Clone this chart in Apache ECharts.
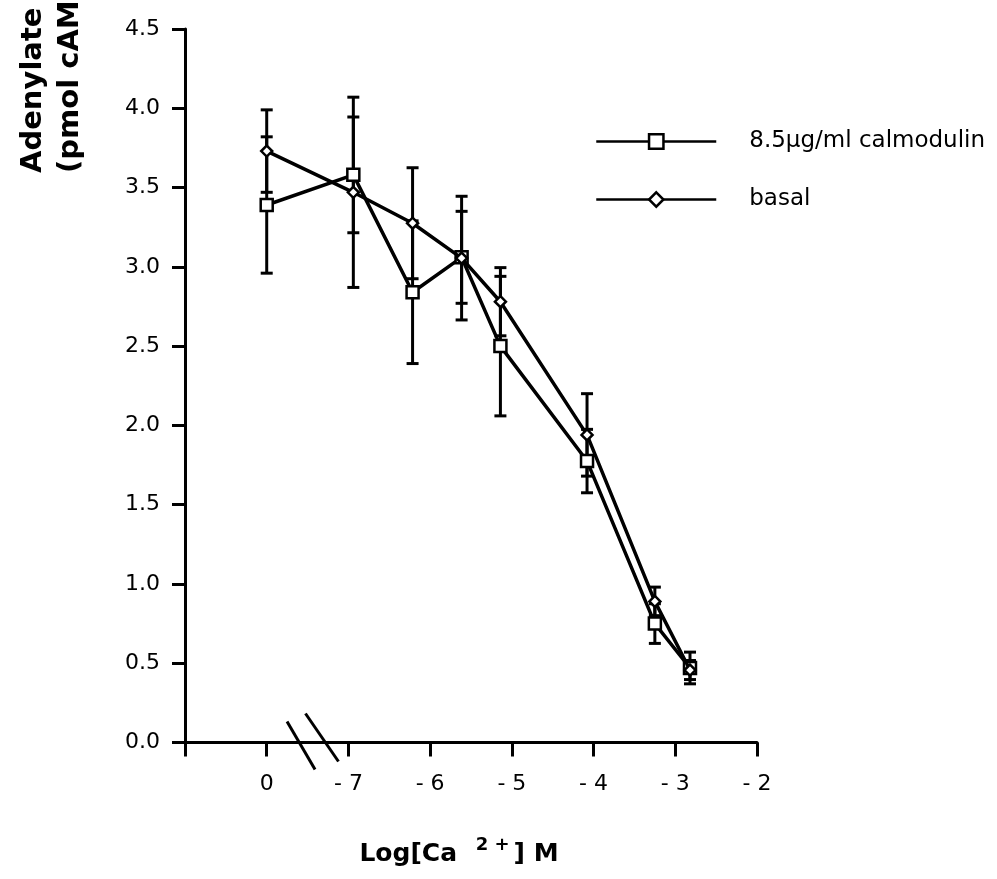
<!DOCTYPE html>
<html>
<head>
<meta charset="utf-8">
<title>Adenylate cyclase vs Log[Ca2+]</title>
<script src="https://cdn.jsdelivr.net/npm/echarts@6/dist/echarts.min.js"></script>
<style>
    html, body { margin: 0; padding: 0; background: #fff; }
    #chart { width: 997px; height: 879px; }
</style>
</head>
<body>
<div id="chart"></div>
<script>
/************************    数据    ****************************/
// x 轴位置：1 = 无钙(0)，2..7 = log[Ca2+] -7..-2
var xTickLabels = ['', '0', '- 7', '- 6', '- 5', '- 4', '- 3', '- 2'];
var xPos = [1.0, 2.06, 2.785, 3.385, 3.86, 4.92, 5.75, 6.18];

var calmodulinMean = [3.39, 3.58, 2.84, 3.06, 2.50, 1.775, 0.75, 0.47];
var calmodulinErr  = [0.43, 0.365, 0.45, 0.29, 0.44, 0.20, 0.125, 0.10];

var basalMean = [3.73, 3.47, 3.275, 3.055, 2.78, 1.94, 0.89, 0.457];
var basalErr  = [0.26, 0.60, 0.35, 0.39, 0.215, 0.26, 0.09, 0.06];

var seriesNames = ['8.5\u00b5g/ml calmodulin', 'basal'];

/************************    组装数据    ****************************/
function toPoints(mean) {
    return mean.map(function (v, i) { return [xPos[i], v]; });
}
function toErrors(mean, err) {
    return mean.map(function (v, i) { return [xPos[i], v - err[i], v + err[i]]; });
}

function renderErrorBar(params, api) {
    var top = api.coord([api.value(0), api.value(2)]);
    var bottom = api.coord([api.value(0), api.value(1)]);
    var half = 6;
    var style = { stroke: '#000', lineWidth: 3 };
    return {
        type: 'group',
        children: [
            { type: 'line', shape: { x1: top[0], y1: top[1], x2: bottom[0], y2: bottom[1] }, style: style },
            { type: 'line', shape: { x1: top[0] - half, y1: top[1], x2: top[0] + half, y2: top[1] }, style: style },
            { type: 'line', shape: { x1: bottom[0] - half, y1: bottom[1], x2: bottom[0] + half, y2: bottom[1] }, style: style }
        ]
    };
}

var labelFont = 'DejaVu Sans';

/************************    图表配置    ****************************/
var chart = echarts.init(document.getElementById('chart'));

var option = {
    backgroundColor: '#fff',
    animation: false,
    grid: { left: 185, right: 240, top: 29, bottom: 136.5 },
    legend: {
        orient: 'vertical',
        left: 595,
        top: 130,
        padding: 0,
        itemWidth: 120,
        itemHeight: 18,
        itemGap: 35,
        data: seriesNames,
        itemStyle: { color: '#fff', borderColor: '#000', borderWidth: 2.5 },
        lineStyle: { color: '#000', width: 2.5 },
        textStyle: { fontFamily: labelFont, fontSize: 23, color: '#000', lineHeight: 22, padding: [0, 0, 0, 28] }
    },
    xAxis: {
        type: 'value',
        min: 0,
        max: 7,
        interval: 1,
        splitLine: { show: false },
        axisLine: { onZero: false, lineStyle: { color: '#000', width: 3 } },
        axisTick: { length: 14, lineStyle: { color: '#000', width: 3 } },
        axisLabel: {
            margin: 31,
            fontFamily: labelFont,
            fontSize: 22,
            color: '#000',
            formatter: function (v) { return xTickLabels[Math.round(v)] || ''; }
        },
        name: '{a|Log[Ca }{s|2 +}{a|] M}',
        nameLocation: 'middle',
        nameGap: 94,
        nameTextStyle: {
            padding: [0, 24, 0, 0],
            rich: {
                a: { fontFamily: labelFont, fontWeight: 'bold', fontSize: 25, color: '#000', lineHeight: 30, verticalAlign: 'bottom' },
                s: { fontFamily: labelFont, fontWeight: 'bold', fontSize: 18, color: '#000', lineHeight: 30, verticalAlign: 'top', padding: [0, 4, 0, 10] }
            }
        }
    },
    yAxis: {
        type: 'value',
        min: 0,
        max: 4.5,
        interval: 0.5,
        splitLine: { show: false },
        axisLine: { show: true, lineStyle: { color: '#000', width: 3 } },
        axisTick: { show: true, length: 13, lineStyle: { color: '#000', width: 3 } },
        axisLabel: {
            margin: 25,
            fontFamily: labelFont,
            fontSize: 22,
            color: '#000',
            formatter: function (v) { return v.toFixed(1); }
        }
    },
    series: [
        {
            type: 'custom',
            name: 'calmodulin err',
            renderItem: renderErrorBar,
            data: toErrors(calmodulinMean, calmodulinErr),
            z: 1
        },
        {
            type: 'custom',
            name: 'basal err',
            renderItem: renderErrorBar,
            data: toErrors(basalMean, basalErr),
            z: 1
        },
        {
            type: 'line',
            name: seriesNames[0],
            data: toPoints(calmodulinMean),
            color: '#000',
            symbol: 'rect',
            symbolSize: 12,
            showAllSymbol: true,
            lineStyle: { color: '#000', width: 3.5 },
            itemStyle: { color: '#fff', borderColor: '#000', borderWidth: 2.5 },
            z: 3
        },
        {
            type: 'line',
            name: seriesNames[1],
            data: toPoints(basalMean),
            color: '#000',
            symbol: 'diamond',
            symbolSize: 11,
            showAllSymbol: true,
            lineStyle: { color: '#000', width: 3.5 },
            itemStyle: { color: '#fff', borderColor: '#000', borderWidth: 2.5 },
            z: 4
        }
    ]
};
chart.setOption(option);

/************************    坐标轴断点 //  及 Y 轴标题    ****************************/
var b1 = chart.convertToPixel({ gridIndex: 0 }, [1.42, 0]);
var b2 = chart.convertToPixel({ gridIndex: 0 }, [1.67, 0]);
var breakStyle = { stroke: '#000', lineWidth: 3 };
var yTitleFont = 'bold 29px "DejaVu Sans"';

chart.setOption({
    graphic: [
        { type: 'line', shape: { x1: b1[0] - 14, y1: b1[1] - 21, x2: b1[0] + 14, y2: b1[1] + 27 }, style: breakStyle, z: 10 },
        { type: 'line', shape: { x1: b2[0] - 16, y1: b2[1] - 29, x2: b2[0] + 17, y2: b2[1] + 19 }, style: breakStyle, z: 10 },
        {
            type: 'text', x: 33, y: 173, rotation: Math.PI / 2,
            style: { text: 'Adenylate cyclase activity', font: yTitleFont, fill: '#000', align: 'left', verticalAlign: 'middle' }
        },
        {
            type: 'text', x: 70, y: 173, rotation: Math.PI / 2,
            style: { text: '(pmol cAMP/min/mg protein)', font: yTitleFont, fill: '#000', align: 'left', verticalAlign: 'middle' }
        }
    ]
});
</script>
</body>
</html>
